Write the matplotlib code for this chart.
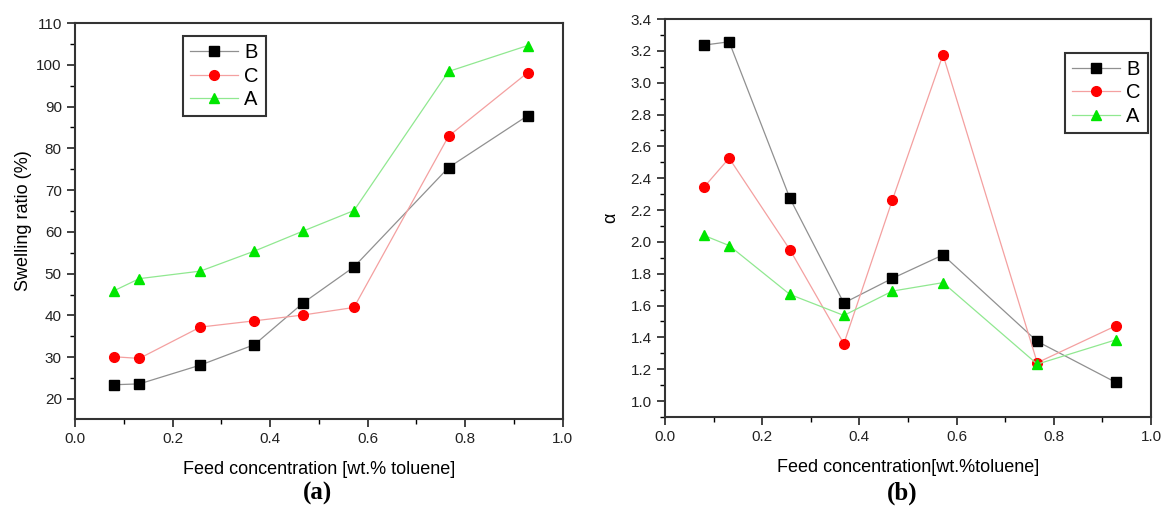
import matplotlib
matplotlib.use("Agg")
import matplotlib.pyplot as plt
from matplotlib.ticker import MultipleLocator

plt.rcParams['font.family'] = ['Liberation Sans', 'DejaVu Sans']

# データ
feed = [0.080, 0.132, 0.257, 0.368, 0.468, 0.572, 0.766, 0.928]

swell_B = [23.4, 23.6, 28.1, 33.0, 43.0, 51.6, 75.4, 87.8]
swell_C = [30.1, 29.7, 37.2, 38.7, 40.1, 41.9, 82.9, 98.1]
swell_A = [45.9, 48.8, 50.6, 55.4, 60.2, 65.1, 98.4, 104.6]

alpha_B = [3.236, 3.257, 2.274, 1.616, 1.771, 1.918, 1.375, 1.117]
alpha_C = [2.343, 2.526, 1.951, 1.360, 2.264, 3.176, 1.241, 1.473]
alpha_A = [2.041, 1.977, 1.670, 1.538, 1.691, 1.744, 1.232, 1.385]

series_labels = ["B", "C", "A"]

styles = [
    dict(color='#909090', marker='s', mfc='black', mec='black', ms=6.5),
    dict(color='#f4a0a0', marker='o', mfc='#ff0000', mec='#ff0000', ms=7),
    dict(color='#90e890', marker='^', mfc='#00e600', mec='#00e600', ms=7.5),
]


def style_axes(ax, ymajor, yminor):
    ax.xaxis.set_major_locator(MultipleLocator(0.2))
    ax.xaxis.set_minor_locator(MultipleLocator(0.1))
    ax.yaxis.set_major_locator(MultipleLocator(ymajor))
    ax.yaxis.set_minor_locator(MultipleLocator(yminor))
    ax.tick_params(which='major', direction='out', length=6, width=1.2,
                   labelsize=11, colors='#222222', top=False, right=False)
    ax.tick_params(which='minor', direction='out', length=3.5, width=1.0,
                   top=False, right=False)
    for sp in ax.spines.values():
        sp.set_linewidth(1.5)
        sp.set_color('#333333')


def add_legend(ax, anchor):
    leg = ax.legend(loc='upper left', bbox_to_anchor=anchor, borderaxespad=0,
                    fontsize=14.5, handlelength=2.4, handletextpad=0.3,
                    borderpad=0.35, labelspacing=0.22, fancybox=False,
                    framealpha=1)
    leg.get_frame().set_edgecolor('#333333')
    leg.get_frame().set_linewidth(1.5)
    return leg


fig = plt.figure(figsize=(11.64, 5.07), dpi=100)

# ▶ (a) Swelling ratio
ax1 = fig.add_axes([0.0644, 0.1736, 0.419, 0.781])
for ys, lab, st in zip([swell_B, swell_C, swell_A], series_labels, styles):
    ax1.plot(feed, ys, lw=0.9, label=lab, **st)
ax1.set_xlim(0.0, 1.0)
ax1.set_ylim(15.2, 110)
style_axes(ax1, 10, 5)
ax1.set_xlabel("Feed concentration [wt.% toluene]", fontsize=13, labelpad=11)
ax1.set_ylabel("Swelling ratio (%)", fontsize=13, labelpad=3)
add_legend(ax1, (0.221, 0.967))

# ▶ (b) Separation factor
ax2 = fig.add_axes([0.5713, 0.1775, 0.4175, 0.785])
for ys, lab, st in zip([alpha_B, alpha_C, alpha_A], series_labels, styles):
    ax2.plot(feed, ys, lw=0.9, label=lab, **st)
ax2.set_xlim(0.0, 1.0)
ax2.set_ylim(0.9, 3.4)
style_axes(ax2, 0.2, 0.1)
ax2.set_xlabel("Feed concentration[wt.%toluene]", fontsize=13, labelpad=11)
ax2.set_ylabel("α", fontsize=13, labelpad=8)
add_legend(ax2, (0.823, 0.915))

# パネル記号
fig.text(0.273, 0.004, "(a)", ha='center', va='bottom', fontsize=18,
         fontweight='bold', family='Liberation Serif')
fig.text(0.775, 0.004, "(b)", ha='center', va='bottom', fontsize=18,
         fontweight='bold', family='Liberation Serif')

fig.savefig("out.png", dpi=100)
